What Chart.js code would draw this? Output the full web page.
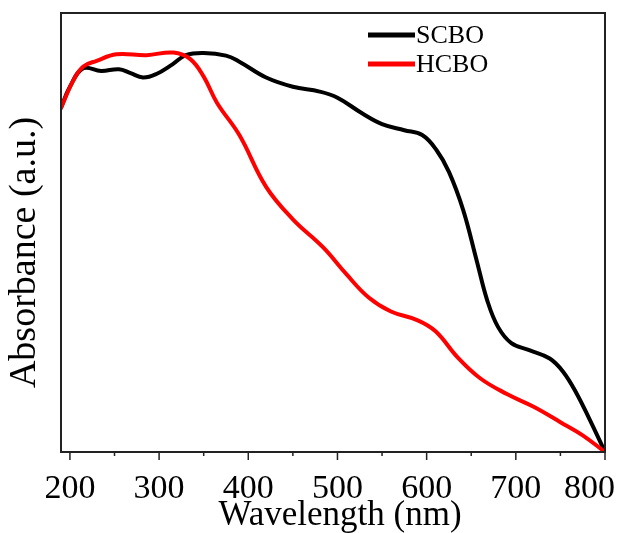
<!DOCTYPE html>
<html>
<head>
<meta charset="utf-8">
<script src="https://cdn.jsdelivr.net/npm/chart.js@4/dist/chart.umd.min.js"></script>
<style>
  body { margin: 0; background: #fff; }
</style>
</head>
<body>
<canvas id="uv-chart" width="617" height="533"></canvas>
<script>
// UV-vis absorbance, values (normalised 0..1)
const wavelengthSCBO = [190, 200, 215, 235, 255, 268, 282, 297, 315, 330, 350, 375, 390, 420, 450, 480, 500, 528, 550, 575, 595, 611, 625, 641, 656, 668, 680, 695, 715, 738, 753, 768, 783, 800]
const absorbanceSCBO = [0.784, 0.832, 0.874, 0.868, 0.872, 0.863, 0.853, 0.861, 0.883, 0.904, 0.909, 0.903, 0.889, 0.853, 0.832, 0.821, 0.807, 0.771, 0.747, 0.733, 0.722, 0.688, 0.638, 0.551, 0.437, 0.345, 0.285, 0.248, 0.232, 0.213, 0.183, 0.134, 0.073, 0.0]

const wavelengthHCBO = [190, 204, 215, 230, 252, 286, 316, 335, 350, 365, 390, 420, 450, 484, 510, 535, 560, 590, 610, 635, 660, 690, 720, 750, 775, 800]
const absorbanceHCBO = [0.784, 0.847, 0.878, 0.891, 0.906, 0.904, 0.910, 0.895, 0.855, 0.795, 0.722, 0.604, 0.530, 0.466, 0.405, 0.352, 0.320, 0.300, 0.275, 0.215, 0.168, 0.132, 0.103, 0.068, 0.038, 0.0]

const xMin = 190
const xMax = 800
const xTickValues = [200, 250, 300, 350, 400, 450, 500, 550, 600, 650, 700, 750, 800]
const xLabelStep = 100

const serif = '"Liberation Serif", "Times New Roman", serif'

const toPoints = (xs, ys) => xs.map((x, i) => ({ x, y: ys[i] }))

// frame, ticks, tick labels, legend and axis titles
const framePlugin = {
  id: 'frame',
  afterDraw(chart) {
    const { ctx, chartArea: a, scales: { x }, width } = chart
    ctx.save()
    ctx.strokeStyle = '#222'
    ctx.fillStyle = '#000'
    ctx.lineWidth = 1.5
    ctx.font = `34px ${serif}`
    ctx.textBaseline = 'middle'
    ctx.textAlign = 'center'
    x.ticks.forEach(t => {
      const px = x.getPixelForValue(t.value)
      const major = t.value % xLabelStep === 0
      ctx.beginPath()
      ctx.moveTo(px, a.bottom)
      ctx.lineTo(px, a.bottom + (major ? 8 : 4))
      ctx.stroke()
      if (major) {
        const label = String(t.value)
        const half = ctx.measureText(label).width / 2
        ctx.fillText(label, Math.min(px, width - 2 - half), a.bottom + 37)
      }
    })
    ctx.lineWidth = 2
    ctx.strokeRect(a.left, a.top, a.right - a.left, a.bottom - a.top)

    // legend
    ctx.font = `26px ${serif}`
    ctx.textAlign = 'left'
    chart.data.datasets.forEach((ds, i) => {
      const ly = a.top + 22 + i * 29
      const lx = a.left + 307
      ctx.strokeStyle = ds.borderColor
      ctx.lineWidth = 5
      ctx.beginPath()
      ctx.moveTo(lx, ly)
      ctx.lineTo(lx + 47, ly)
      ctx.stroke()
      ctx.fillText(ds.label, lx + 48, ly + 1)
    })

    // axis titles
    ctx.textAlign = 'center'
    ctx.font = `38px ${serif}`
    ctx.save()
    ctx.translate(25, (a.top + a.bottom) / 2 + 20)
    ctx.rotate(-Math.PI / 2)
    ctx.fillText('Absorbance (a.u.)', 0, 0)
    ctx.restore()
    ctx.font = `35px ${serif}`
    ctx.fillText('Wavelength (nm)', (a.left + a.right) / 2 + 7, a.bottom + 64)
    ctx.restore()
  }
}

new Chart(document.getElementById('uv-chart'), {
  type: 'line',
  data: {
    datasets: [
      {
        label: 'SCBO',
        data: toPoints(wavelengthSCBO, absorbanceSCBO),
        borderColor: '#000',
        borderWidth: 4,
        order: 2
      },
      {
        label: 'HCBO',
        data: toPoints(wavelengthHCBO, absorbanceHCBO),
        borderColor: '#ff0000',
        borderWidth: 4,
        order: 1
      }
    ]
  },
  options: {
    responsive: false,
    animation: false,
    layout: { padding: { top: 13, right: 12, left: 0, bottom: 0 } },
    elements: {
      point: { radius: 0 },
      line: { tension: 0.4, borderCapStyle: 'round', borderJoinStyle: 'round' }
    },
    plugins: {
      legend: { display: false },
      tooltip: { enabled: false }
    },
    scales: {
      x: {
        type: 'linear',
        min: xMin,
        max: xMax,
        grid: { display: false },
        border: { display: false },
        ticks: { display: false },
        afterBuildTicks: scale => {
          scale.ticks = xTickValues.map(value => ({ value }))
        },
        afterFit: scale => {
          scale.height = 81
          scale.paddingLeft = 0
          scale.paddingRight = 0
        }
      },
      y: {
        min: 0,
        max: 1,
        grid: { display: false },
        border: { display: false },
        ticks: { display: false },
        afterFit: scale => { scale.width = 61 }
      }
    }
  },
  plugins: [framePlugin]
})
</script>
</body>
</html>
